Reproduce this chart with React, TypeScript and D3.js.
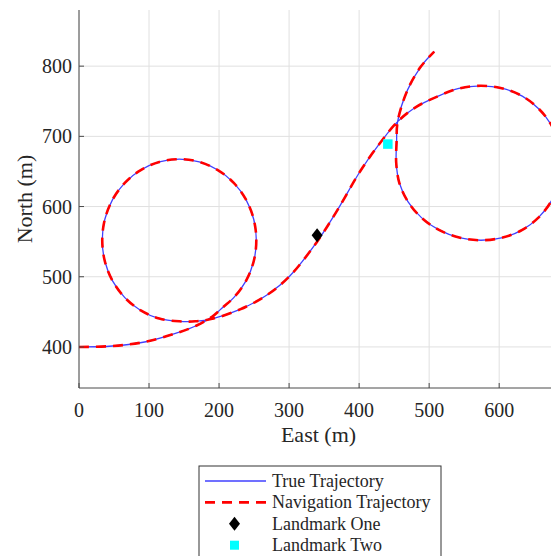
import React from 'react';
import * as d3 from 'd3';

// ---- Data ----
const trueEast = [
  0, 47.7, 95.5, 143.2, 168, 190, 206, 221, 238.5, 249.5,
  253.2, 249.5, 238.5, 221, 198.2, 171.7, 143.2, 114.7, 88.2, 65.4, 47.9, 36.9,
  33.2, 36.9, 47.9, 65.4, 88.2, 114.7, 143.2, 166,
  190, 230, 270, 301, 340, 369, 402, 431, 455,
  480, 513, 542.5, 574, 605, 633, 656, 674, 685, 689,
  685, 674, 656, 633, 605, 574, 543, 514, 489, 469.7, 457.5,
  453, 453.5, 455, 469.2, 488.2, 507.3,
];
const trueNorth = [
  400, 401.3, 407.4, 421, 430.5, 443, 457, 470.3, 494.2, 522.1,
  552, 581.9, 609.8, 633.7, 652, 663.6, 667.5, 663.6, 652, 633.7, 609.8, 581.9,
  552, 522.1, 494.2, 470.3, 452, 440.4, 436.5, 436.5,
  440, 453.5, 475, 501, 550, 595, 651, 692, 721,
  741, 757.3, 768.2, 772, 768.2, 757.3, 739.8, 717, 690.5, 662,
  633.5, 607, 584.2, 566.7, 555.8, 552, 555.8, 566.7, 584.2, 607, 633.5,
  662, 692, 721, 766.2, 799.4, 820.8,
];
const navEast = [
  0, 47.7, 95.5, 143.2, 168, 190, 206, 221, 238.5, 249.5,
  253.2, 249.5, 238.5, 221, 198.2, 171.7, 143.2, 114.7, 88.2, 65.4, 47.9, 36.9,
  33.2, 36.9, 47.9, 65.4, 88.2, 114.7, 143.2, 166,
  190, 230, 270, 301, 340, 369, 402, 431, 455,
  480, 513, 542.5, 574, 605, 633, 656, 674, 685, 689,
  685, 674, 656, 633, 605, 574, 543, 514, 489, 469.7, 457.5,
  453, 453.5, 455, 469.2, 488.2, 507.3,
];
const navNorth = [
  400, 401.3, 407.4, 421, 430.5, 443, 457, 470.3, 494.2, 522.1,
  552, 581.9, 609.8, 633.7, 652, 663.6, 667.5, 663.6, 652, 633.7, 609.8, 581.9,
  552, 522.1, 494.2, 470.3, 452, 440.4, 436.5, 436.5,
  440, 453.5, 475, 501, 550, 595, 651, 692, 721,
  741, 757.3, 768.2, 772, 768.2, 757.3, 739.8, 717, 690.5, 662,
  633.5, 607, 584.2, 566.7, 555.8, 552, 555.8, 566.7, 584.2, 607, 633.5,
  662, 692, 721, 766.2, 799.4, 820.8,
];
const landmarkOne = [340, 559];
const landmarkTwo = [441, 689];
const xTicks = [0, 100, 200, 300, 400, 500, 600];
const yTicks = [400, 500, 600, 700, 800];
const legendLabels = ['True Trajectory', 'Navigation Trajectory', 'Landmark One', 'Landmark Two'];

const W = 551;
const H = 556;
const FONT = '"Liberation Serif", "Times New Roman", serif';
const TXT = '#262626';

export default function App() {
  const x = d3.scaleLinear().domain([0, 684]).range([79, 558]);
  const y = d3.scaleLinear().domain([341.5, 880]).range([388, 10]);
  const [x0, x1] = x.range();
  const [yb, yt] = y.range();

  const mkLine = (ex: number[], nn: number[]) =>
    d3
      .line<number>()
      .x((_, i) => x(ex[i]))
      .y((_, i) => y(nn[i]))
      .curve(d3.curveCatmullRom.alpha(0.5))(ex) || '';

  const truePath = mkLine(trueEast, trueNorth);
  const navPath = mkLine(navEast, navNorth);

  const diamond = 'M0,-7L5.5,0L0,7L-5.5,0Z';
  const blue = '#4040ff';
  const red = '#ff0000';
  const dash = '10,7';

  const legX = 199;
  const legY = 466;
  const legW = 242;
  const rowY = (i: number) => 481 + i * 21.4;

  return (
    <svg
      width={W}
      height={H}
      style={{ position: 'absolute', left: 0, top: 0, background: '#fff' }}
      fontFamily={FONT}
    >
      <defs>
        <clipPath id="plotclip">
          <rect x={x0} y={yt} width={x1 - x0} height={yb - yt} />
        </clipPath>
      </defs>
      {/* grid */}
      {xTicks.map((t) => (
        <line key={'gx' + t} x1={x(t)} x2={x(t)} y1={yt} y2={yb} stroke="#e0e0e0" strokeWidth={1} />
      ))}
      {yTicks.map((t) => (
        <line key={'gy' + t} x1={x0} x2={x1} y1={y(t)} y2={y(t)} stroke="#e0e0e0" strokeWidth={1} />
      ))}
      {/* trajectories */}
      <g clipPath="url(#plotclip)">
        <path d={truePath} fill="none" stroke={blue} strokeWidth={1.3} />
        <path d={navPath} fill="none" stroke={red} strokeWidth={2.6} strokeDasharray={dash} />
        <path
          d={diamond}
          transform={`translate(${x(landmarkOne[0])},${y(landmarkOne[1])})`}
          fill="#000"
        />
        <rect
          x={x(landmarkTwo[0]) - 4.75}
          y={y(landmarkTwo[1]) - 4.75}
          width={9.5}
          height={9.5}
          fill="#00ffff"
        />
      </g>
      {/* axes */}
      <line x1={x0} x2={x0} y1={yt} y2={yb} stroke="#4a4a4a" strokeWidth={1} />
      <line x1={x0} x2={x1} y1={yb} y2={yb} stroke="#4a4a4a" strokeWidth={1} />
      {xTicks.map((t) => (
        <g key={'xt' + t}>
          <line x1={x(t)} x2={x(t)} y1={yb} y2={yb - 5} stroke="#4a4a4a" strokeWidth={1} />
          <text x={x(t)} y={417} textAnchor="middle" fontSize={20} fill={TXT}>
            {t}
          </text>
        </g>
      ))}
      {yTicks.map((t) => (
        <g key={'yt' + t}>
          <line x1={x0} x2={x0 + 5} y1={y(t)} y2={y(t)} stroke="#4a4a4a" strokeWidth={1} />
          <text x={72} y={y(t) + 7} textAnchor="end" fontSize={20} fill={TXT}>
            {t}
          </text>
        </g>
      ))}
      <text x={(x0 + x1) / 2} y={442} textAnchor="middle" fontSize={22} fill={TXT}>
        East (m)
      </text>
      <text
        transform={`translate(32,${(yt + yb) / 2}) rotate(-90)`}
        textAnchor="middle"
        fontSize={22}
        fill={TXT}
      >
        North (m)
      </text>
      {/* legend */}
      <rect x={legX} y={legY} width={legW} height={96} fill="#fff" stroke="#333" strokeWidth={1} />
      <line x1={205} x2={266} y1={rowY(0)} y2={rowY(0)} stroke={blue} strokeWidth={1.3} />
      <line
        x1={205}
        x2={266}
        y1={rowY(1)}
        y2={rowY(1)}
        stroke={red}
        strokeWidth={2.6}
        strokeDasharray={dash}
      />
      <path d={diamond} transform={`translate(234.5,${rowY(2)})`} fill="#000" />
      <rect x={234.5 - 4.5} y={rowY(3) - 4.5} width={9} height={9} fill="#00ffff" />
      {legendLabels.map((l, i) => (
        <text key={l} x={272} y={rowY(i) + 6} fontSize={18} fill={TXT}>
          {l}
        </text>
      ))}
    </svg>
  );
}
